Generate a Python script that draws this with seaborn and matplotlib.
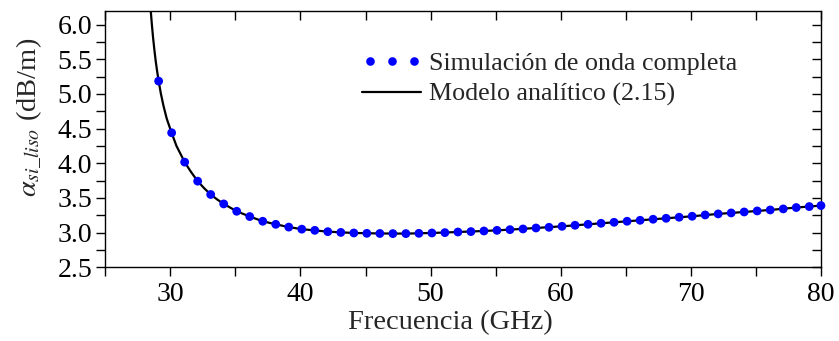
import numpy as np
import pandas as pd
import matplotlib
matplotlib.use("Agg")
import matplotlib.pyplot as plt
from matplotlib.lines import Line2D, TICKDOWN, TICKLEFT
from matplotlib.legend_handler import HandlerLine2D
from matplotlib.ticker import MultipleLocator
import seaborn as sns

# Full-wave simulation samples (GHz, dB/m)
sim_freq = [29.1, 30.1, 31.1, 32.1, 33.1, 34.1, 35.1, 36.1, 37.1, 38.1,
            39.1, 40.1, 41.1, 42.1, 43.1, 44.1, 45.1, 46.1, 47.1, 48.1,
            49.1, 50.1, 51.1, 52.1, 53.1, 54.1, 55.1, 56.1, 57.1, 58.1,
            59.1, 60.1, 61.1, 62.1, 63.1, 64.1, 65.1, 66.1, 67.1, 68.1,
            69.1, 70.1, 71.1, 72.1, 73.1, 74.1, 75.1, 76.1, 77.1, 78.1,
            79.1, 80.0]
sim_alpha = [5.185, 4.44, 4.017, 3.742, 3.55, 3.414, 3.308, 3.232, 3.164, 3.12,
             3.08, 3.05, 3.033, 3.014, 3.003, 2.995, 2.99, 2.988, 2.986, 2.986,
             2.99, 2.995, 3.0, 3.009, 3.015, 3.024, 3.033, 3.043, 3.053, 3.067,
             3.077, 3.091, 3.106, 3.12, 3.135, 3.149, 3.164, 3.178, 3.193, 3.207,
             3.222, 3.236, 3.255, 3.27, 3.284, 3.298, 3.313, 3.327, 3.342, 3.362,
             3.376, 3.39]

# Analytic model (2.15), sampled more finely near cutoff where it is steep
model_freq = [28.47, 28.57, 28.67, 28.77, 28.87, 28.97, 29.1, 29.27, 29.47, 29.72,
              30.1, 30.47, 31.1, 31.57, 32.1, 32.6, 33.1, 33.6, 34.1, 35.1,
              36.1, 37.1, 38.1, 39.1, 40.1, 42.1, 44.1, 46.1, 48.1, 50.1,
              52.1, 54.1, 56.1, 58.1, 60.1, 62.1, 64.1, 66.1, 68.1, 70.1,
              72.1, 74.1, 76.1, 78.1, 80.0]
model_alpha = [6.255, 6.02, 5.815, 5.64, 5.48, 5.345, 5.185, 5.006, 4.83, 4.645,
               4.437, 4.25, 4.017, 3.88, 3.742, 3.64, 3.55, 3.478, 3.414, 3.308,
               3.232, 3.164, 3.12, 3.08, 3.05, 3.014, 2.995, 2.988, 2.986, 2.995,
               3.009, 3.024, 3.043, 3.067, 3.091, 3.12, 3.149, 3.178, 3.207, 3.236,
               3.27, 3.298, 3.327, 3.362, 3.39]

sim_df = pd.DataFrame({"f": sim_freq, "a": sim_alpha})
model_df = pd.DataFrame({"f": model_freq, "a": model_alpha})

sns.set_theme(style="ticks")
plt.rcParams["font.family"] = ["Liberation Serif", "DejaVu Serif"]
plt.rcParams["mathtext.fontset"] = "stix"

fig = plt.figure(figsize=(8.39, 3.41), dpi=100)
ax = fig.add_axes([0.1255, 0.2161, 0.9785 - 0.1255, 0.9686 - 0.2161])

sns.lineplot(data=model_df, x="f", y="a", ax=ax, color="black", lw=1.6,
             sort=False, zorder=2)
sns.scatterplot(data=sim_df, x="f", y="a", ax=ax, color="#0000ff", s=40,
                edgecolor="none", linewidth=0, zorder=3, clip_on=False)

ax.set_xlim(25, 80)
ax.set_ylim(2.5, 6.2)
ax.xaxis.set_major_locator(MultipleLocator(10))
ax.xaxis.set_minor_locator(MultipleLocator(5))
yticks = np.arange(2.5, 6.01, 0.5)
ax.set_yticks(yticks)
ax.set_yticklabels([f"{v:.1f}" for v in yticks])
ax.yaxis.set_minor_locator(MultipleLocator(0.25))

for side in ["top", "right", "left", "bottom"]:
    ax.spines[side].set_visible(True)
    ax.spines[side].set_color("black")
    ax.spines[side].set_linewidth(1.0)

ax.tick_params(axis="both", which="both", direction="out", length=6.5, width=1,
               color="black", labelsize=20, labelcolor="black")
ax.tick_params(axis="x", which="both", top=True, pad=4)
ax.tick_params(axis="y", which="both", right=True, pad=3)
# inward ticks on the top and right edges
for t in ax.xaxis.get_major_ticks() + ax.xaxis.get_minor_ticks():
    t.tick2line.set_marker(TICKDOWN)
for t in ax.yaxis.get_major_ticks() + ax.yaxis.get_minor_ticks():
    t.tick2line.set_marker(TICKLEFT)

ax.set_xlabel("Frecuencia (GHz)", fontsize=20.5)
ax.xaxis.set_label_coords(0.482, -0.165)
ax.set_ylabel(r"$\alpha_{si\_liso}$ (dB/m)", fontsize=20.5)
ax.yaxis.set_label_coords(-0.085, 0.584)

dots_handle = Line2D([], [], linestyle="none", marker="o", color="#0000ff",
                     markersize=6.2, markeredgewidth=0)
line_handle = Line2D([], [], color="black", lw=1.6)
labels = ["Simulación de onda completa", "Modelo analítico (2.15)"]
ax.legend([dots_handle, line_handle], labels, loc="upper left",
          bbox_to_anchor=(0.359, 0.84), frameon=False, fontsize=18.7,
          numpoints=3, handlelength=2.27, handletextpad=0.3, borderpad=0,
          borderaxespad=0, labelspacing=0.3,
          handler_map={dots_handle: HandlerLine2D(marker_pad=0.29),
                       line_handle: HandlerLine2D(marker_pad=0.0)})

fig.savefig("out.png", dpi=100)
